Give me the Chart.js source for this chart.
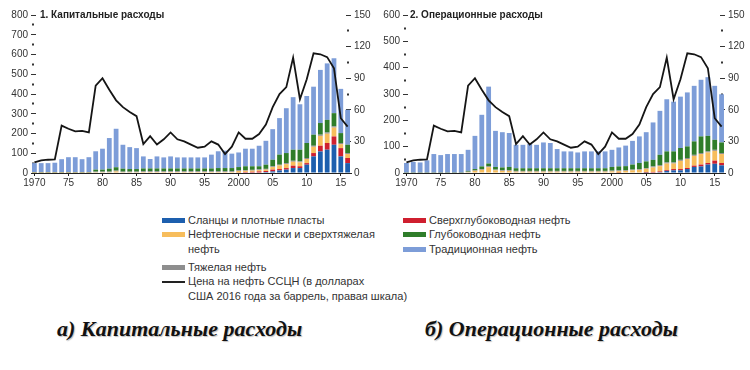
<!DOCTYPE html>
<html lang="ru">
<head>
<meta charset="utf-8">
<title>Капитальные и операционные расходы</title>
<script src="https://cdn.jsdelivr.net/npm/chart.js@4.4.1/dist/chart.umd.min.js"></script>
<style>
  html, body { margin: 0; padding: 0; background: #fff; }
  body { width: 750px; height: 370px; position: relative; overflow: hidden;
         font-family: 'Liberation Sans', Arial, sans-serif; color: #333; }
  .panel { position: absolute; top: 0; width: 375px; height: 195px; }
  .panel-title { position: absolute; top: 9px; font-weight: bold; font-size: 10px; color: #222; white-space: nowrap; }
  .legend-item { position: absolute; font-size: 11px; line-height: 15px; white-space: nowrap; }
  .legend-item .sw { position: absolute; left: 0; top: 5px; width: 23px; height: 5px; }
  .legend-item .sw.line { top: 7px; height: 1.5px; background: #222; }
  .legend-item .txt { display: block; margin-left: 26px; }
  .caption { position: absolute; top: 316px; font-family: 'Liberation Serif', 'Times New Roman', serif;
             font-weight: bold; font-style: italic; font-size: 22px; color: #111; white-space: nowrap;
             text-shadow: 1px 1px 1px rgba(0,0,0,0.25); }
</style>
</head>
<body>

<div class="panel" style="left:0"><canvas id="capex"></canvas></div>
<div class="panel" style="left:375px"><canvas id="opex"></canvas></div>
<div class="panel-title" style="left:40px">1. Капитальные расходы</div>
<div class="panel-title" style="left:410px">2. Операционные расходы</div>

<div class="legend-item" style="left:162px; top:213px"><i class="sw" style="background:#1d5fae"></i><span class="txt">Сланцы и плотные пласты</span></div>
<div class="legend-item" style="left:162px; top:227px"><i class="sw" style="background:#f7bd5c"></i><span class="txt">Нефтеносные пески и сверхтяжелая<br>нефть</span></div>
<div class="legend-item" style="left:162px; top:260px"><i class="sw" style="background:#8e8e8e"></i><span class="txt">Тяжелая нефть</span></div>
<div class="legend-item" style="left:162px; top:274px"><i class="sw line"></i><span class="txt">Цена на нефть ССЦН (в долларах<br>США 2016 года за баррель, правая шкала)</span></div>
<div class="legend-item" style="left:403px; top:213px"><i class="sw" style="background:#cf1f2f"></i><span class="txt">Сверхглубоководная нефть</span></div>
<div class="legend-item" style="left:403px; top:227px"><i class="sw" style="background:#2f7d2a"></i><span class="txt">Глубоководная нефть</span></div>
<div class="legend-item" style="left:403px; top:242px"><i class="sw" style="background:#7d9dd8"></i><span class="txt">Традиционная нефть</span></div>

<div class="caption" style="left:57px">а) Капитальные расходы</div>
<div class="caption" style="left:425px">б) Операционные расходы</div>

<script>
// years on the x axis
const years = [1970, 1971, 1972, 1973, 1974, 1975, 1976, 1977, 1978, 1979,
               1980, 1981, 1982, 1983, 1984, 1985, 1986, 1987, 1988, 1989,
               1990, 1991, 1992, 1993, 1994, 1995, 1996, 1997, 1998, 1999,
               2000, 2001, 2002, 2003, 2004, 2005, 2006, 2007, 2008, 2009,
               2010, 2011, 2012, 2013, 2014, 2015, 2016];

// oil price, right scale (same line on both panels)
const oilPrice = [10, 12, 12.6, 13, 45, 42, 39.5, 40, 38.5, 83,
                  90, 79, 69, 62.5, 58, 54, 27.5, 35, 27, 32,
                  38.5, 32, 30, 27, 24, 25, 30, 27, 18, 25,
                  38.5, 32.5, 32.5, 37, 46, 62.5, 75, 81.5, 109.5, 70,
                  89, 113.7, 112.7, 110, 99.5, 52, 44];

// 1. capital expenditure
const capexShale = [0, 0, 0, 0, 0, 0, 0, 0, 0, 0,
                    0, 0, 0, 0, 0, 0, 0, 0, 0, 0,
                    0, 0, 0, 0, 0, 0, 0, 0, 0, 0,
                    0, 0, 0, 0, 5, 8, 13, 17, 25, 25,
                    42, 84, 109, 118, 143, 84, 50];
const capexUltra = [0, 0, 0, 0, 0, 0, 0, 0, 0, 0,
                    0, 0, 0, 0, 0, 0, 0, 0, 0, 0,
                    0, 0, 0, 0, 0, 0, 0, 0, 0, 0,
                    2, 5, 6, 8, 5, 9, 7, 8, 12, 9,
                    8, 17, 29, 34, 42, 42, 26];
const capexSands = [1, 1, 1, 1, 1, 1, 1, 1, 1, 4,
                    4, 4, 8, 4, 4, 4, 5, 5, 5, 5,
                    5, 5, 5, 5, 5, 5, 5, 5, 5, 5,
                    8, 6, 6, 7, 7, 13, 18, 20, 20, 20,
                    21, 32, 50, 47, 45, 20, 20];
const capexHeavy = [2, 2, 2, 2, 2, 2, 2, 2, 2, 3,
                    3, 3, 4, 3, 3, 3, 4, 4, 4, 4,
                    4, 4, 4, 4, 4, 4, 4, 4, 4, 4,
                    4, 4, 4, 4, 4, 4, 4, 5, 5, 5,
                    5, 5, 6, 6, 6, 6, 5];
const capexDeep = [2, 2, 2, 2, 2, 2, 2, 2, 2, 10,
                   10, 15, 17, 15, 13, 13, 14, 14, 14, 14,
                   14, 14, 14, 14, 14, 14, 14, 16, 16, 16,
                   16, 19, 18, 15, 21, 33, 51, 51, 56, 59,
                   76, 56, 59, 64, 67, 50, 42];
const capexConv = [45, 45, 45, 47, 65, 75, 75, 65, 75, 93,
                   106, 155, 195, 121, 111, 106, 61, 48, 61, 56,
                   61, 56, 56, 56, 56, 56, 70, 85, 88, 73,
                   74, 89, 89, 104, 121, 155, 185, 227, 266, 230,
                   238, 243, 269, 286, 278, 224, 177];

// 2. operating expenditure
const opexShale = [0, 0, 0, 0, 0, 0, 0, 0, 0, 0,
                   0, 0, 0, 0, 0, 0, 0, 0, 0, 0,
                   0, 0, 0, 0, 0, 0, 0, 0, 0, 0,
                   0, 0, 0, 0, 0, 1, 2, 3, 8, 10,
                   10, 15, 23, 25, 32, 35, 29];
const opexUltra = [0, 0, 0, 0, 0, 0, 0, 0, 0, 0,
                   0, 0, 0, 0, 0, 0, 0, 0, 0, 0,
                   0, 0, 0, 0, 0, 0, 0, 0, 0, 0,
                   0, 1, 2, 2, 2, 2, 2, 3, 3, 5,
                   5, 4, 5, 7, 6, 12, 9];
const opexSands = [0, 0, 0, 0, 0, 0, 0, 0, 0, 3,
                   8, 12, 22, 10, 8, 8, 5, 5, 5, 5,
                   5, 5, 5, 5, 5, 5, 5, 5, 5, 5,
                   6, 6, 6, 8, 10, 13, 17, 20, 25, 21,
                   31, 34, 37, 40, 40, 37, 34];
const opexHeavy = [1, 1, 1, 1, 1, 1, 1, 1, 1, 2,
                   2, 3, 4, 3, 3, 3, 3, 3, 3, 3,
                   3, 3, 3, 3, 3, 3, 3, 3, 3, 3,
                   3, 3, 3, 3, 3, 3, 4, 4, 4, 4,
                   4, 4, 4, 4, 4, 4, 4];
const opexDeep = [1, 1, 1, 1, 1, 1, 1, 1, 1, 3,
                  5, 10, 10, 10, 10, 12, 10, 10, 10, 10,
                  10, 10, 10, 10, 10, 10, 10, 10, 10, 10,
                  14, 15, 15, 19, 23, 25, 25, 39, 42, 42,
                  45, 44, 51, 63, 59, 38, 40];
const opexConv = [36, 40, 38, 46, 70, 66, 70, 70, 70, 80,
                  126, 196, 292, 137, 134, 129, 89, 89, 92, 89,
                  98, 96, 73, 64, 64, 60, 64, 64, 64, 64,
                  65, 72, 78, 90, 101, 111, 142, 167, 198, 189,
                  195, 205, 211, 215, 223, 205, 183];

const colors = {
    shale: '#1d5fae',
    ultra: '#cf1f2f',
    sands: '#f7bd5c',
    heavy: '#8e8e8e',
    deep:  '#2f7d2a',
    conv:  '#7d9dd8',
    line:  '#151515'
};

const tickFont = { family: "'Liberation Sans', Arial, sans-serif", size: 10 };

function yearLabel(y) {
    if (y % 5 !== 0) return '';
    if (y === 1970 || y === 2000) return String(y);
    return String(y).slice(2);
}

// short dash for labelled ticks, small dot for the ones in between
function tickGrid(major) {
    return {
        drawOnChartArea: false,
        drawTicks: true,
        tickLength: -5,
        tickColor: '#333',
        tickWidth: c => (c.tick && c.tick.value % major !== 0) ? 2 : 1,
        tickBorderDash: c => (c.tick && c.tick.value % major !== 0) ? [0, 2, 2, 20] : []
    };
}

function barSet(label, data, color) {
    return {
        type: 'bar', label: label, data: data, backgroundColor: color,
        stack: 'total', yAxisID: 'y', order: 1,
        barPercentage: 0.7, categoryPercentage: 1.0, borderWidth: 0
    };
}

function makeChart(canvasId, parts, leftMax, leftWidth, rightWidth) {
    const ctx = document.getElementById(canvasId).getContext('2d');
    return new Chart(ctx, {
        type: 'bar',
        data: {
            labels: years,
            datasets: [
                {
                    type: 'line', label: 'Цена на нефть ССЦН', data: oilPrice,
                    yAxisID: 'y1', order: 0,
                    borderColor: colors.line, borderWidth: 1.8,
                    pointRadius: 0, tension: 0, fill: false
                },
                barSet('Сланцы и плотные пласты', parts.shale, colors.shale),
                barSet('Сверхглубоководная нефть', parts.ultra, colors.ultra),
                barSet('Нефтеносные пески и сверхтяжелая нефть', parts.sands, colors.sands),
                barSet('Тяжелая нефть', parts.heavy, colors.heavy),
                barSet('Глубоководная нефть', parts.deep, colors.deep),
                barSet('Традиционная нефть', parts.conv, colors.conv)
            ]
        },
        options: {
            responsive: true,
            maintainAspectRatio: false,
            animation: false,
            layout: { padding: { top: 15, left: 0, right: 0, bottom: 0 } },
            plugins: { legend: { display: false }, tooltip: { enabled: false }, title: { display: false } },
            scales: {
                x: {
                    stacked: true,
                    border: { display: true, color: '#222', width: 1 },
                    grid: {
                        drawOnChartArea: false, offset: false, drawTicks: true, tickLength: 3,
                        tickColor: c => (years[c.index] % 5 === 0) ? '#222' : 'transparent'
                    },
                    ticks: {
                        autoSkip: false, maxRotation: 0, padding: 1, color: '#333', font: tickFont,
                        callback: (v, i) => yearLabel(years[i])
                    },
                    afterFit: s => { s.height = 22; }
                },
                y: {
                    position: 'left', stacked: true, min: 0, max: leftMax,
                    border: { display: false },
                    grid: tickGrid(100),
                    ticks: {
                        stepSize: 50, autoSkip: false, padding: 8, color: '#333', font: tickFont,
                        callback: v => (v % 100 === 0) ? v : ''
                    },
                    afterFit: s => { s.width = leftWidth; }
                },
                y1: {
                    position: 'right', stacked: false, min: 0, max: 150,
                    border: { display: false },
                    grid: tickGrid(30),
                    ticks: {
                        stepSize: 15, autoSkip: false, padding: 8, color: '#333', font: tickFont,
                        callback: v => (v % 30 === 0) ? v : ''
                    },
                    afterFit: s => { s.width = rightWidth; }
                }
            }
        }
    });
}

makeChart('capex', {
    shale: capexShale, ultra: capexUltra, sands: capexSands,
    heavy: capexHeavy, deep: capexDeep, conv: capexConv
}, 800, 31, 24);

makeChart('opex', {
    shale: opexShale, ultra: opexUltra, sands: opexSands,
    heavy: opexHeavy, deep: opexDeep, conv: opexConv
}, 600, 28, 25);
</script>
</body>
</html>
